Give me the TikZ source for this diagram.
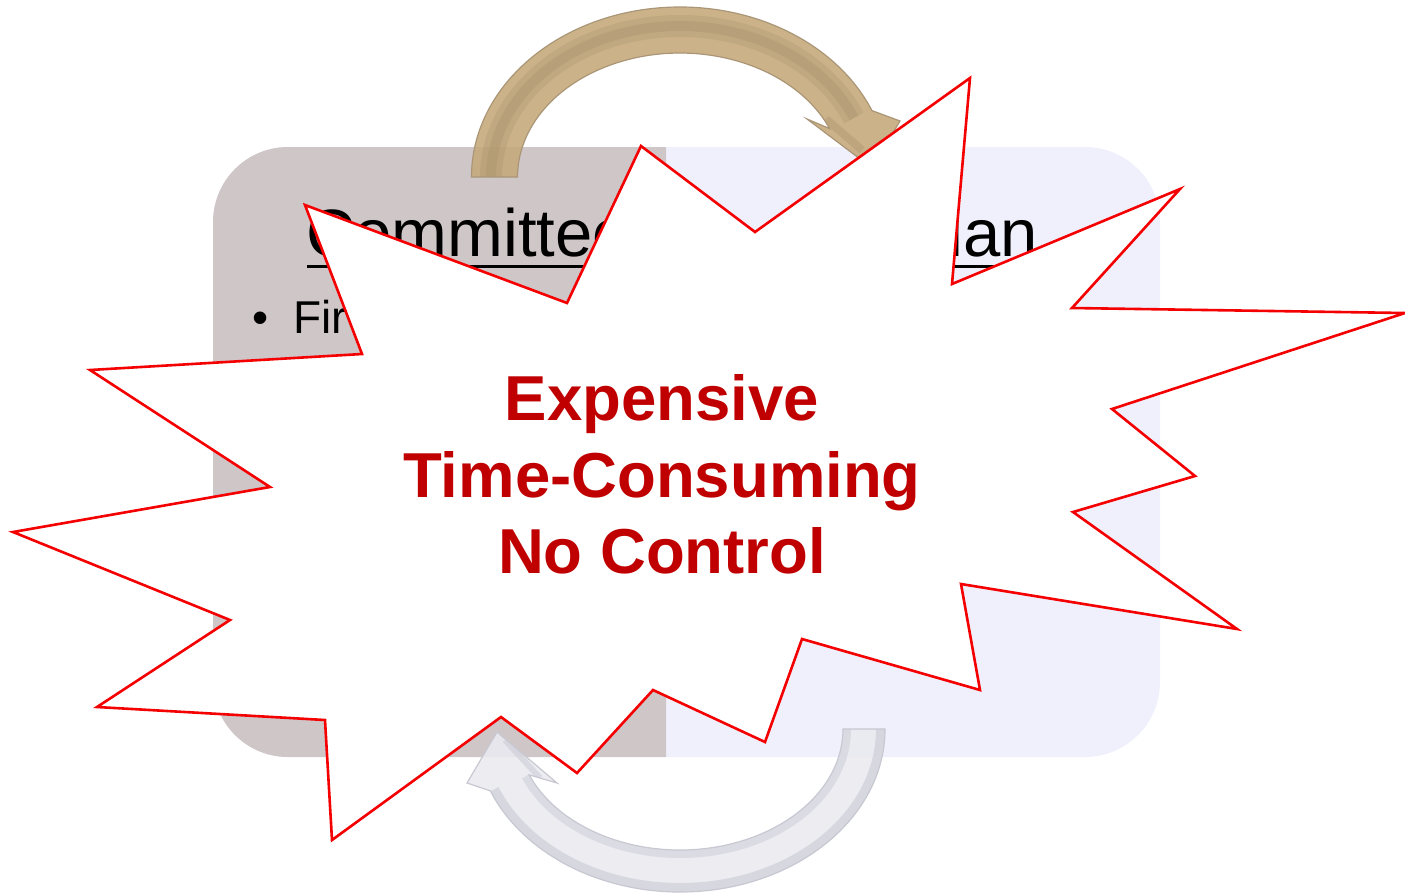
\documentclass[tikz,border=0pt]{standalone}
\usepackage{fontspec}
\setmainfont{Liberation Sans}
\definecolor{boxright}{RGB}{240,240,252}
\definecolor{boxleft}{RGB}{207,198,200}
\definecolor{burstred}{RGB}{245,0,0}
\definecolor{alarmred}{RGB}{192,0,0}
\definecolor{goldfill}{RGB}{198,170,124}
\definecolor{goldband}{RGB}{160,138,102}
\definecolor{goldline}{RGB}{170,150,118}
\definecolor{silverfill}{RGB}{234,234,240}
\definecolor{silverband}{RGB}{196,196,206}
\definecolor{silverline}{RGB}{200,200,210}
\def\TopArrowPath{(471.5,177) arc[start angle=180, end angle=337, x radius=208.5, y radius=170]
  -- (900,121) -- (872,168) -- (807,119) -- (829.6,128.6)
  arc[start angle=337, end angle=180, x radius=162.5, y radius=124] -- cycle}
\def\BottomArrowPath{(885,729) arc[start angle=0, end angle=157.7, x radius=205, y radius=163]
  -- (467,783) -- (497,732) -- (557,783) -- (529.2,774.9)
  arc[start angle=157.7, end angle=0, x radius=163, y radius=121] -- cycle}
\begin{document}
\begin{tikzpicture}[x=1pt,y=-1pt,
  burstline/.style={draw=burstred, line width=2.6pt, line join=miter, miter limit=20, fill=white},
  goldarrow/.style={draw=goldline, line width=1.2pt},
  silverarrow/.style={draw=silverline, line width=1.2pt},
  headtext/.style={inner sep=0pt, font=\fontsize{67}{80}\selectfont},
  bullettext/.style={inner sep=0pt, font=\fontsize{46}{55}\selectfont},
  alarmtext/.style={inner sep=0pt, text=alarmred, font=\fontsize{63.5}{76}\selectfont\bfseries}]
\useasboundingbox (0,0) rectangle (1405,895);
% two-coloured rounded box
\fill[boxright, rounded corners=75pt] (213,147) rectangle (1160,757);
\begin{scope}
  \clip (213,140) rectangle (666,765);
  \fill[boxleft, rounded corners=75pt] (213,147) rectangle (1160,757);
\end{scope}
% top curved arrow
\begin{scope}
  \clip \TopArrowPath;
  \fill[goldfill, fill opacity=0.9] \TopArrowPath;
  \draw[goldband, line width=22pt, opacity=0.25] (491,177) arc[start angle=180, end angle=337, x radius=189, y radius=151];
  \draw[goldband, line width=10pt, opacity=0.25] (491,177) arc[start angle=180, end angle=337, x radius=189, y radius=151];
  \draw[goldband, line width=8pt, opacity=0.3] (826,119) -- (862,150);
\end{scope}
\path[goldarrow] \TopArrowPath;
% bottom curved arrow
\begin{scope}
  \clip \BottomArrowPath;
  \fill[silverfill, fill opacity=0.9] \BottomArrowPath;
  \draw[silverband, line width=10pt, opacity=0.5] (881,729) arc[start angle=0, end angle=157.7, x radius=201, y radius=159];
  \draw[silverband, line width=8pt, opacity=0.4] (847,729) arc[start angle=0, end angle=157.7, x radius=167, y radius=125];
  \draw[silverband, line width=6pt, opacity=0.45] (505,740) -- (540,778);
\end{scope}
\path[silverarrow] \BottomArrowPath;
% box texts
\node[headtext, anchor=base west] (committee) at (306,256) {Committee};
\draw[line width=3pt] (committee.base west) ++(1,10) -- ++(322,0);
\node[headtext, anchor=base east] (ian) at (1038,256) {ian};
\draw[line width=3pt] (ian.base east) ++(0,10) -- ++(-95,0);
\node[bullettext, anchor=base west] (bul) at (252,333) {•};
\node[bullettext, anchor=base west] (fir) at (293,333) {Fir};
% explosion burst
\path[burstline] (641,146) -- (755,232) -- (970,78) -- (952,284) -- (1180,189) -- (1072,308)
  -- (1405,313) -- (1112,409) -- (1195,476) -- (1073,512) -- (1237,629) -- (961,584)
  -- (980,690) -- (802,639) -- (765,742) -- (653,690) -- (577,773) -- (501,717)
  -- (332,840) -- (325,720) -- (97,707) -- (230,620) -- (13,532) -- (270,487)
  -- (90,370) -- (362,354) -- (305,205) -- (567,303) -- cycle;
% alarm text
\node[alarmtext, anchor=base] (l1) at (662,420) {Expensive};
\node[alarmtext, anchor=base] (l2) at (662,497) {Time-Consuming};
\node[alarmtext, anchor=base] (l3) at (662,573) {No Control};
\end{tikzpicture}
\end{document}
